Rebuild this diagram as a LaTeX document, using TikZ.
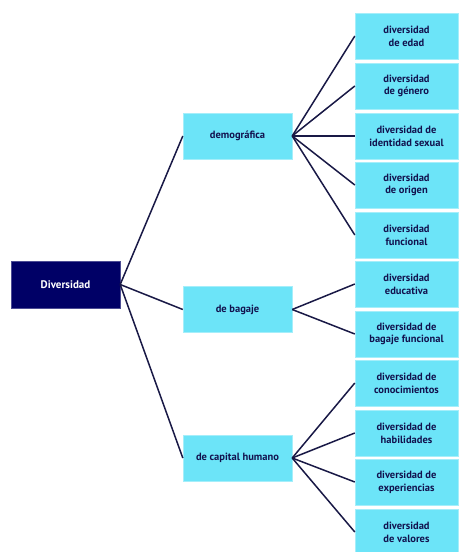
\documentclass[tikz,border=0pt]{standalone}
\usepackage{fontspec}
\setmainfont{PT Sans}
\definecolor{navybox}{RGB}{0,0,102}
\definecolor{cyanbox}{RGB}{108,228,248}
\definecolor{cyanedge}{RGB}{165,238,250}
\definecolor{textnavy}{RGB}{18,18,78}
\definecolor{linknavy}{RGB}{25,25,70}
\tikzset{
  rootbox/.style={fill=navybox,draw=navybox!70!white,text=white,
    font=\bfseries\fontsize{11}{13}\selectfont,
    minimum width=109pt,minimum height=47pt,inner sep=0pt},
  groupbox/.style={fill=cyanbox,draw=cyanedge,text=textnavy,align=center,
    font=\bfseries\fontsize{10.5}{12.7}\selectfont,
    minimum width=109pt,minimum height=46pt,inner sep=0pt},
  leafbox/.style={groupbox,minimum width=103pt},
  link/.style={draw=linknavy,line width=1.5pt}
}
\begin{document}
\begin{tikzpicture}[x=1pt,y=-1pt]
\useasboundingbox (0,0) rectangle (460,552);
% Root
\node[rootbox] (root) at (65.5,284.5) {Diversidad};
% Groups
\node[groupbox] (demo) at (237.5,136) {demográfica};
\node[groupbox] (bagaje) at (237.5,309.5) {de bagaje};
\node[groupbox] (capital) at (237.5,458) {de capital humano};
% Leaves
\foreach \y/\name/\txt in {
  36/edad/{diversidad\\de edad},
  86/genero/{diversidad\\de género},
  136/identidad/{diversidad de\\identidad sexual},
  185/origen/{diversidad\\de origen},
  235/funcional/{diversidad\\funcional},
  284/educativa/{diversidad\\educativa},
  334/bagajefun/{diversidad de\\bagaje funcional},
  383/conoc/{diversidad de\\conocimientos},
  433/habil/{diversidad de\\habilidades},
  482/exper/{diversidad de\\experiencias},
  532/valores/{diversidad\\de valores}}{
  \node[leafbox] (\name) at (406.5,\y) {\txt};
}
% Links
\foreach \g in {demo,bagaje,capital}{
  \draw[link] (root.east) -- (\g.west);
}
\foreach \g/\leaves in {
  demo/{edad,genero,identidad,origen,funcional},
  bagaje/{educativa,bagajefun},
  capital/{conoc,habil,exper,valores}}{
  \foreach \l in \leaves{
    \draw[link] (\g.east) -- (\l.west);
  }
}
\end{tikzpicture}
\end{document}
